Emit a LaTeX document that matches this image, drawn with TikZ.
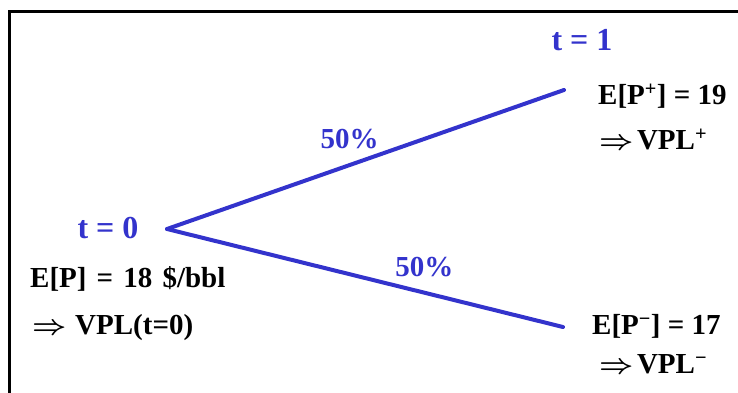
\documentclass[tikz,border=0pt]{standalone}
\usepackage{fontspec}
\setmainfont{Liberation Serif}
\usepackage{tikz}
\usetikzlibrary{positioning}
\definecolor{treeblue}{HTML}{3333CC}
\tikzset{
  lbl/.style={font=\fontsize{29}{32}\selectfont\bfseries, inner sep=0pt},
  tlbl/.style={lbl, text=treeblue, font=\fontsize{32}{34}\selectfont\bfseries},
  pct/.style={lbl, text=treeblue, font=\fontsize{29}{31}\selectfont\bfseries},
  branch/.style={draw=treeblue, line width=4pt, line cap=round},
  frame/.style={line width=3.5pt}
}
\newcommand{\sep}{\hspace{0.35em}}
\newcommand{\impl}{\scalebox{1.2}[1.1]{\boldmath$\Rightarrow$}}

\begin{document}
\begin{tikzpicture}[x=1pt, y=-1pt]
 \useasboundingbox (0,0) rectangle (738,393);
 \draw[frame] (9.5,393) -- (9.5,11.5) -- (738,11.5);

 \coordinate (o) at (167,229);
 \coordinate (up) at (564,90);
 \coordinate (dn) at (563,327);

 \node[tlbl] (t0) at (108,228) {t = 0};
 \node[tlbl] (t1) at (582,40) {t = 1};

 \node[lbl, anchor=west] (ep) at (30,279) {E[P]\sep=\sep18\sep\$/bbl};
 \node[lbl, anchor=west] (vp) at (32,328) {\impl\hspace{0.3em}VPL(t=0)};
 \node[lbl, anchor=west] (epu) at (598,96) {E[P\textsuperscript{+}] = 19};
 \node[lbl, anchor=west] (vpu) at (599,139) {\impl\hspace{0.12em}VPL\textsuperscript{+}};
 \node[lbl, anchor=west] (epd) at (592,326) {E[P\textsuperscript{−}] = 17};
 \node[lbl, anchor=west] (vpd) at (599,364) {\impl\hspace{0.12em}VPL\textsuperscript{−}};

 \draw[branch] (o) -- node[pct, pos=0.46, above=14pt]{50\%} (up);
 \draw[branch] (o) -- node[pct, pos=0.65, above=14pt]{50\%} (dn);
\end{tikzpicture}
\end{document}
